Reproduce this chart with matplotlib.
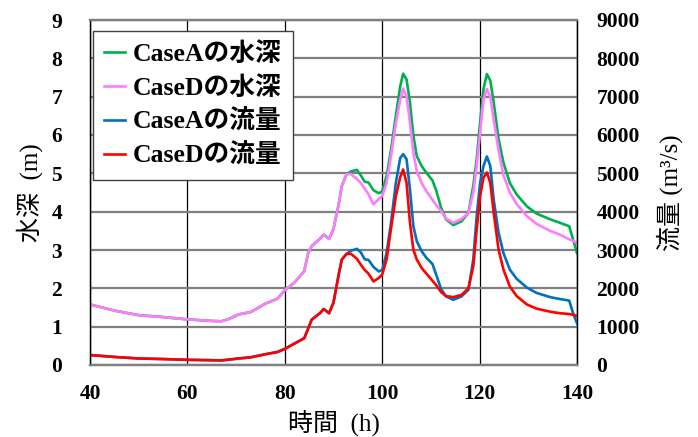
import matplotlib
matplotlib.use("Agg")
import matplotlib.pyplot as plt

# ---- data ----
time_h = [40, 45, 50, 55, 60, 65, 67, 68.5, 70.5, 73, 76, 78.5, 80, 82, 84, 84.8,
          85.5, 87.2, 88, 89.1, 90, 91, 91.7, 92.7, 93.6, 94.8, 95.6, 96.4, 97.2,
          98.2, 99.3, 100, 100.9, 101.8, 102.8, 103.7, 104.3, 105, 105.7, 106.4,
          107.1, 108.1, 109.1, 110.3, 111.1, 112.1, 113.1, 114.6, 116.3, 117.7,
          118.7, 119.4, 120.1, 120.8, 121.5, 122.2, 122.9, 123.9, 124.9, 126.2,
          127.6, 129.7, 131.7, 134.5, 136.5, 138.4, 139.2, 140]

depth_A = [1.58, 1.42, 1.30, 1.25, 1.19, 1.15, 1.14, 1.20, 1.32, 1.38, 1.60, 1.73,
           1.95, 2.15, 2.45, 2.92, 3.10, 3.29, 3.40, 3.29, 3.55, 4.15, 4.67, 4.98,
           5.05, 5.09, 4.95, 4.78, 4.76, 4.56, 4.48, 4.53, 4.93, 5.60, 6.50, 7.27,
           7.60, 7.45, 6.85, 5.98, 5.45, 5.19, 5.01, 4.82, 4.55, 4.10, 3.80, 3.65,
           3.75, 3.97, 4.67, 5.37, 6.32, 7.20, 7.59, 7.42, 6.85, 5.89, 5.28, 4.75,
           4.45, 4.14, 3.95, 3.80, 3.71, 3.62, 3.27, 2.92]

depth_D = [1.58, 1.42, 1.30, 1.25, 1.19, 1.15, 1.14, 1.20, 1.32, 1.38, 1.60, 1.73,
           1.95, 2.15, 2.45, 2.92, 3.10, 3.29, 3.40, 3.29, 3.55, 4.15, 4.67, 4.98,
           4.98, 4.85, 4.75, 4.60, 4.45, 4.19, 4.33, 4.41, 4.75, 5.45, 6.30, 6.93,
           7.21, 7.02, 6.32, 5.54, 5.06, 4.75, 4.53, 4.31, 4.17, 4.02, 3.82, 3.71,
           3.81, 3.97, 4.49, 5.19, 6.05, 6.93, 7.20, 7.00, 6.40, 5.60, 4.95, 4.50,
           4.20, 3.88, 3.68, 3.50, 3.40, 3.28, 3.24, 3.19]

flow_A = [260, 210, 170, 155, 135, 125, 120, 140, 170, 200, 280, 340, 420, 560,
          700, 950, 1180, 1350, 1460, 1350, 1630, 2310, 2750, 2900, 2980, 3030,
          2940, 2760, 2740, 2560, 2440, 2480, 2920, 3700, 4750, 5400, 5500, 5370,
          4580, 3620, 3230, 2970, 2790, 2640, 2350, 1980, 1790, 1700, 1790, 1960,
          2750, 3880, 4750, 5190, 5440, 5190, 4310, 3450, 2920, 2490, 2250, 2020,
          1880, 1770, 1720, 1680, 1350, 1090]

flow_D = [260, 210, 170, 155, 135, 125, 120, 140, 170, 200, 280, 340, 420, 560,
          700, 950, 1180, 1350, 1460, 1350, 1630, 2310, 2750, 2900, 2900, 2770,
          2620, 2480, 2380, 2180, 2270, 2360, 2750, 3550, 4400, 4900, 5100, 4750,
          3710, 3010, 2750, 2530, 2380, 2200, 2080, 1900, 1800, 1770, 1830, 2000,
          2570, 3530, 4400, 4890, 5020, 4750, 3970, 3010, 2490, 2050, 1800, 1580,
          1470, 1390, 1350, 1330, 1310, 1280]

labels = ["CaseAの水深", "CaseDの水深", "CaseAの流量", "CaseDの流量"]
colors = ["#00b050", "#ff7bff", "#0070c0", "#ff0000"]

FAM = ["Liberation Serif", "Noto Sans CJK JP"]
plt.rcParams["font.family"] = FAM
plt.rcParams["font.weight"] = "bold"

fig = plt.figure(figsize=(6.98, 4.37), dpi=100)
ax = fig.add_axes([90 / 698, 1 - 365 / 437, 487 / 698, 345 / 437])
ax2 = ax.twinx()

lw = 1.9
l1, = ax.plot(time_h, depth_A, color=colors[0], lw=lw, label=labels[0])
l2, = ax.plot(time_h, depth_D, color=colors[1], lw=lw, label=labels[1])
l3, = ax2.plot(time_h, flow_A, color=colors[2], lw=lw, label=labels[2])
l4, = ax2.plot(time_h, flow_D, color=colors[3], lw=lw, label=labels[3])

ax.set_xlim(40, 140)
ax.set_ylim(0, 9)
ax2.set_ylim(0, 9000)
ax.set_xticks(range(40, 141, 20))
ax.set_yticks(range(0, 10))
ax2.set_yticks(range(0, 9001, 1000))

ax.yaxis.grid(True, color="#808080", lw=1.6)
ax.xaxis.grid(True, color="black", lw=0.9)
ax.set_axisbelow(True)

for a in (ax, ax2):
    a.spines["left"].set_color("black")
    a.spines["left"].set_linewidth(0.9)
    a.spines["right"].set_color("black")
    a.spines["right"].set_linewidth(0.9)
    a.spines["top"].set_color("#808080")
    a.spines["top"].set_linewidth(1.6)
    a.spines["bottom"].set_color("#808080")
    a.spines["bottom"].set_linewidth(1.6)

ax.tick_params(axis="both", length=0, labelsize=15.5)
ax.tick_params(axis="y", pad=20)
ax.tick_params(axis="x", pad=14)
ax2.tick_params(axis="y", length=0, labelsize=15.5, pad=14)

ax.set_xlabel("時間  (h)", fontsize=18, labelpad=4)
ax.set_ylabel("水深  (m)", fontsize=18, labelpad=6)
ax2.set_ylabel("流量 (m³/s)", fontsize=18, labelpad=12)

leg = ax2.legend(handles=[l1, l2, l3, l4], loc="upper left",
                 bbox_to_anchor=(0.006, 0.968), borderaxespad=0,
                 fancybox=False, framealpha=1, edgecolor="#404040",
                 fontsize=18.5, handlelength=0.8, handletextpad=0.3,
                 labelspacing=0.38, borderpad=0.45)
leg.get_frame().set_linewidth(1.0)

fig.savefig("out.png", dpi=100)
